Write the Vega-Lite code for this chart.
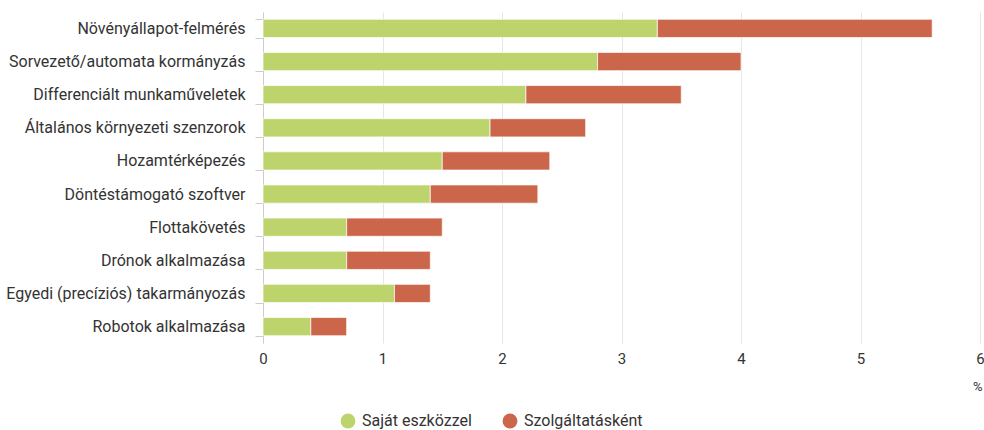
{
  "$schema": "https://vega.github.io/schema/vega-lite/v6.json",
  "autosize": {"type": "none"},
  "width": 717,
  "height": 331,
  "padding": {"left": 263, "top": 12, "right": 4, "bottom": 87},
  "background": "white",
  "config": {
    "view": {"stroke": null},
    "font": "Roboto"
  },
  "data": {
    "values": [
      {"cat": "Növényállapot-felmérés", "type": "Saját eszközzel", "o": 1, "v": 3.3},
      {"cat": "Növényállapot-felmérés", "type": "Szolgáltatásként", "o": 2, "v": 2.3},
      {"cat": "Sorvezető/automata kormányzás", "type": "Saját eszközzel", "o": 1, "v": 2.8},
      {"cat": "Sorvezető/automata kormányzás", "type": "Szolgáltatásként", "o": 2, "v": 1.2},
      {"cat": "Differenciált munkaműveletek", "type": "Saját eszközzel", "o": 1, "v": 2.2},
      {"cat": "Differenciált munkaműveletek", "type": "Szolgáltatásként", "o": 2, "v": 1.3},
      {"cat": "Általános környezeti szenzorok", "type": "Saját eszközzel", "o": 1, "v": 1.9},
      {"cat": "Általános környezeti szenzorok", "type": "Szolgáltatásként", "o": 2, "v": 0.8},
      {"cat": "Hozamtérképezés", "type": "Saját eszközzel", "o": 1, "v": 1.5},
      {"cat": "Hozamtérképezés", "type": "Szolgáltatásként", "o": 2, "v": 0.9},
      {"cat": "Döntéstámogató szoftver", "type": "Saját eszközzel", "o": 1, "v": 1.4},
      {"cat": "Döntéstámogató szoftver", "type": "Szolgáltatásként", "o": 2, "v": 0.9},
      {"cat": "Flottakövetés", "type": "Saját eszközzel", "o": 1, "v": 0.7},
      {"cat": "Flottakövetés", "type": "Szolgáltatásként", "o": 2, "v": 0.8},
      {"cat": "Drónok alkalmazása", "type": "Saját eszközzel", "o": 1, "v": 0.7},
      {"cat": "Drónok alkalmazása", "type": "Szolgáltatásként", "o": 2, "v": 0.7},
      {"cat": "Egyedi (precíziós) takarmányozás", "type": "Saját eszközzel", "o": 1, "v": 1.1},
      {"cat": "Egyedi (precíziós) takarmányozás", "type": "Szolgáltatásként", "o": 2, "v": 0.3},
      {"cat": "Robotok alkalmazása", "type": "Saját eszközzel", "o": 1, "v": 0.4},
      {"cat": "Robotok alkalmazása", "type": "Szolgáltatásként", "o": 2, "v": 0.3}
    ]
  },
  "mark": {"type": "bar", "stroke": "white", "strokeWidth": 0.7},
  "encoding": {
    "y": {
      "field": "cat",
      "type": "nominal",
      "sort": null,
      "scale": {"paddingInner": 0.45, "paddingOuter": 0.22},
      "axis": {
        "title": null,
        "labelFontSize": 16,
        "labelColor": "#333333",
        "labelPadding": 10,
        "labelLimit": 0,
        "tickBand": "extent",
        "tickSize": 8,
        "tickColor": "#cccccc",
        "domainColor": "#cccccc",
        "grid": false
      }
    },
    "x": {
      "field": "v",
      "type": "quantitative",
      "stack": "zero",
      "scale": {"domain": [0, 6], "nice": false},
      "axis": {
        "title": "%",
        "titleFontSize": 13,
        "titleFontWeight": "normal",
        "titleColor": "#333333",
        "titleAnchor": "end",
        "titleAlign": "right",
        "titleX": 719,
        "titleY": 43,
        "titleBaseline": "middle",
        "values": [0, 1, 2, 3, 4, 5, 6],
        "labelFontSize": 15,
        "labelColor": "#333333",
        "labelPadding": 8,
        "labelFlush": false,
        "domain": false,
        "ticks": false,
        "grid": true,
        "gridColor": "#e6e6e6"
      }
    },
    "color": {
      "field": "type",
      "type": "nominal",
      "scale": {"domain": ["Saját eszközzel", "Szolgáltatásként"], "range": ["#bdd46c", "#cc664a"]},
      "legend": {
        "title": null,
        "orient": "none",
        "direction": "horizontal",
        "legendX": 77,
        "legendY": 401,
        "symbolType": "circle",
        "symbolSize": 220,
        "symbolStrokeWidth": 0,
        "labelFontSize": 16,
        "labelColor": "#333333",
        "columnPadding": 30,
        "labelOffset": 6
      }
    },
    "order": {"field": "o"}
  }
}
